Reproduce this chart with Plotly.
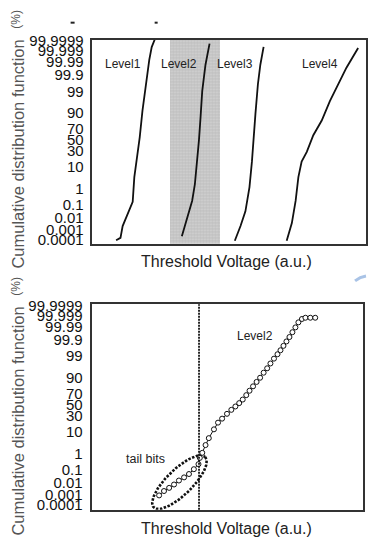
import math
from statistics import NormalDist
import plotly.graph_objects as go

W, H = 368, 544
FONT = "Liberation Sans, Arial, sans-serif"

# ---- y-axis: normal-probability (probit) scale, cumulative % ----
tick_pct = [0.0001, 0.001, 0.01, 0.1, 1, 10, 30, 50, 70, 90, 99, 99.9, 99.99, 99.999, 99.9999]
tick_labels = ["0.0001", "0.001", "0.01", "0.1", "1", "10", "30", "50", "70", "90",
               "99", "99.9", "99.99", "99.999", "99.9999"]

# ---- top panel: four levels (x = threshold voltage, a.u.; y = normal quantile, sigma) ----
level1_x = [8.7, 10.3, 11.1, 13.6, 14.8, 15.4, 16.6, 17.4, 18.4, 19.6, 20.9, 21.8, 23.0]
level1_sigma = [-4.78, -4.66, -4.10, -3.36, -2.94, -1.77, -0.70, 0.14, 1.40, 2.66, 3.82, 4.43, 4.82]

level2_x = [32.9, 34.9, 36.7, 37.7, 38.6, 39.2, 39.8, 40.4, 41.6, 43.1]
level2_sigma = [-4.58, -3.63, -2.89, -2.10, -1.03, 0.00, 1.12, 2.33, 3.59, 4.60]

level3_x = [52.4, 54.5, 56.3, 57.8, 58.7, 59.3, 60.0, 60.9, 61.8, 63.0]
level3_sigma = [-4.80, -4.10, -3.40, -2.24, -1.03, 0.23, 1.26, 2.66, 3.59, 4.44]

level4_x = [71.5, 73.4, 74.8, 75.8, 77.0, 78.9, 81.3, 84.4, 87.4, 93.5, 97.8]
level4_sigma = [-4.80, -3.96, -2.89, -1.77, -1.03, -0.56, 0.23, 0.93, 1.86, 3.45, 4.39]

band_x = [28.6, 47.1]          # shaded Level2 window

# ---- bottom panel: Level2 measured bits ----
bits_x = [24.9, 26.7, 28.6, 30.4, 32.2, 34.1, 35.9, 37.7, 39.4, 39.9,
          40.8, 42.0, 43.2, 45.1, 46.6, 48.1, 49.9, 51.5, 53.0, 54.4,
          55.7, 57.0, 58.2, 59.5, 60.8, 62.1, 63.4, 64.7, 65.9, 67.2,
          68.5, 69.6, 70.7, 71.8, 72.9, 74.0, 75.1, 76.2, 77.5, 78.8,
          80.6, 82.4]
bits_sigma = [-4.31, -4.10, -3.95, -3.79, -3.60, -3.45, -3.29, -3.06, -2.82, -2.52,
              -2.28, -1.91, -1.58, -1.16, -0.84, -0.65, -0.42, -0.23, -0.07, 0.09,
              0.26, 0.47, 0.68, 0.89, 1.10, 1.30, 1.54, 1.75, 1.98, 2.21,
              2.42, 2.61, 2.82, 3.03, 3.24, 3.47, 3.70, 3.94, 4.10, 4.16,
              4.16, 4.16]
read_level_x = 39.6           # dotted read-level line

# tail-bits ellipse (centre in data units, semi-axes in px, tilt in degrees)
ell_center = (32.4, -3.68)
ell_axes_px = (36.5, 13.0)
ell_tilt = 45.0

tick_z = [NormalDist().inv_cdf(p / 100.0) for p in tick_pct]

TOP_Y = [-4.94, 4.78]
BOT_Y = [-4.99, 4.80]
TOP_X = [0, 100.7]
BOT_X = [0, 100]

fig = go.Figure()

# textured shaded window (Level2 band)
fig.add_trace(go.Bar(
    x=[(band_x[0] + band_x[1]) / 2], width=[band_x[1] - band_x[0]],
    base=[TOP_Y[0]], y=[TOP_Y[1] - TOP_Y[0]],
    marker=dict(color="#bfbfbf", line=dict(width=0),
                pattern=dict(shape=".", fgcolor="#ebebeb", bgcolor="#bfbfbf",
                             size=3, solidity=0.35)),
    xaxis="x", yaxis="y", hoverinfo="skip", showlegend=False))

line_style = dict(color="#111111", width=1.8)
for xs, ys in [(level1_x, level1_sigma), (level2_x, level2_sigma),
               (level3_x, level3_sigma), (level4_x, level4_sigma)]:
    fig.add_trace(go.Scatter(x=xs, y=ys, mode="lines", line=line_style,
                             xaxis="x", yaxis="y", hoverinfo="skip", showlegend=False))

# ellipse outline (decoration) in data coordinates of bottom axes
px_per_x = (365 - 92) / (BOT_X[1] - BOT_X[0])
px_per_y = (513 - 303) / (BOT_Y[1] - BOT_Y[0])
a, b = ell_axes_px
th = math.radians(ell_tilt)
ex, ey = [], []
for i in range(121):
    t = 2 * math.pi * i / 120
    dx = a * math.cos(t) * math.cos(th) + b * math.sin(t) * math.sin(th)
    dy = a * math.cos(t) * math.sin(th) - b * math.sin(t) * math.cos(th)  # up positive
    ex.append(ell_center[0] + dx / px_per_x)
    ey.append(ell_center[1] + dy / px_per_y)
fig.add_trace(go.Scatter(x=ex, y=ey, mode="lines",
                         line=dict(color="#111111", width=2.6, dash="2.5px,1.5px"),
                         xaxis="x2", yaxis="y2", hoverinfo="skip", showlegend=False))

fig.add_trace(go.Scatter(x=bits_x, y=bits_sigma, mode="lines+markers",
                         line=dict(color="#111111", width=1),
                         marker=dict(symbol="circle", size=5, color="white",
                                     line=dict(color="#111111", width=1)),
                         xaxis="x2", yaxis="y2", hoverinfo="skip", showlegend=False))

shapes = [
    dict(type="line", xref="x2", yref="y2 domain", x0=read_level_x, x1=read_level_x, y0=0, y1=1,
         line=dict(color="#111111", width=1.8, dash="2px,1px")),
    # small cropped marks at top edge
    dict(type="line", xref="paper", yref="paper", x0=71 / W, x1=75 / W, y0=1 - 15 / H, y1=1 - 15 / H,
         line=dict(color="#222222", width=2)),
    dict(type="line", xref="paper", yref="paper", x0=155.5 / W, x1=158.5 / W, y0=1 - 15 / H, y1=1 - 15 / H,
         line=dict(color="#222222", width=2)),
    dict(type="path", xref="paper", yref="paper",
         path=f"M {357/W} {1-279/H} Q {362/W} {1-275/H} {368/W} {1-274/H}",
         line=dict(color="#a9c3e6", width=3)),
]

ann = []
def add_text(text, x, y, xref, yref, size, color="#222222", angle=0):
    ann.append(dict(text=text, x=x, y=y, xref=xref, yref=yref, showarrow=False,
                    font=dict(family=FONT, size=size, color=color), textangle=angle,
                    xanchor="center", yanchor="middle"))

add_text("Level1", 11.4, 3.63, "x", "y", 12)
add_text("Level2", 31.9, 3.63, "x", "y", 12)
add_text("Level3", 52.4, 3.63, "x", "y", 12)
add_text("Level4", 83.9, 3.63, "x", "y", 12)
add_text("Level2", 60.1, 3.31, "x2", "y2", 12)
add_text("tail bits", 19.8, -2.56, "x2", "y2", 12.5)

for off in (0, 273):
    add_text("Cumulative distribution function", 18 / W, 1 - (149 + off) / H, "paper", "paper", 16.5,
             color="#555555", angle=-90)
    add_text("(%)", 16 / W, 1 - (11 + off) / H, "paper", "paper", 12, color="#555555", angle=-90)
    add_text("Threshold Voltage (a.u.)", 228 / W, 1 - (259 + off) / H, "paper", "paper", 16,
             color="#222222")

axis_common = dict(showgrid=False, zeroline=False, showline=True, mirror=True,
                   linecolor="#333333", linewidth=1.8)
yaxis_common = dict(axis_common, tickmode="array", tickvals=tick_z, ticktext=tick_labels,
                    ticks="", ticklabelstandoff=4,
                    tickfont=dict(family=FONT, size=15, color="#111111"))

fig.update_layout(
    width=W, height=H, autosize=False,
    margin=dict(l=0, r=0, t=0, b=0, pad=0),
    paper_bgcolor="white", plot_bgcolor="white",
    xaxis=dict(axis_common, domain=[93 / W, 1.0], range=TOP_X, showticklabels=False,
               ticks="", anchor="y"),
    yaxis=dict(yaxis_common, domain=[1 - 241 / H, 1 - 32.5 / H], range=TOP_Y, anchor="x"),
    xaxis2=dict(axis_common, domain=[92 / W, 365 / W], range=BOT_X, showticklabels=False,
                ticks="", anchor="y2"),
    yaxis2=dict(yaxis_common, domain=[1 - 513 / H, 1 - 303 / H], range=BOT_Y, anchor="x2"),
    shapes=shapes, annotations=ann, showlegend=False, bargap=0,
)

fig.write_html(
    "out.html",
    config={"displayModeBar": False},
    post_script="document.body.style.margin='0';document.body.style.overflow='hidden';",
)
